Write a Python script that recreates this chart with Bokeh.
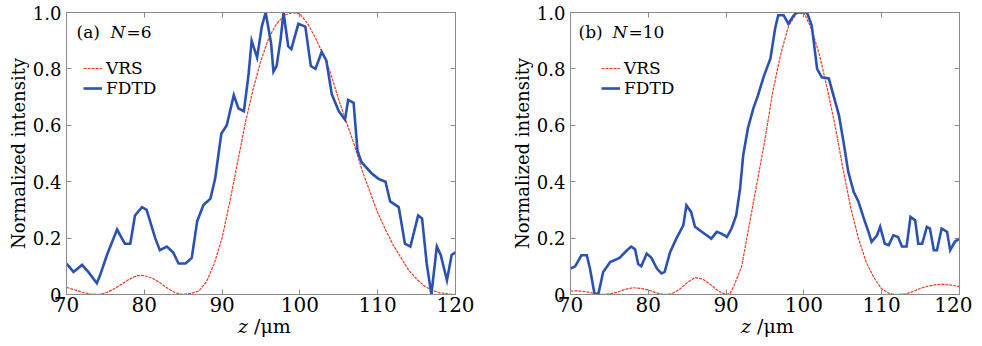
from bokeh.plotting import figure
from bokeh.layouts import row, column
from bokeh.models import (Range1d, LinearAxis, FixedTicker, Label, Legend, LegendItem, Div)
from bokeh.embed import file_html
from bokeh.resources import INLINE

# ---------------- data ----------------
x_ticks = [70, 80, 90, 100, 110, 120]
y_ticks = [0, 0.2, 0.4, 0.6, 0.8, 1.0]
y_tick_labels = {0: "0", 0.2: "0.2", 0.4: "0.4", 0.6: "0.6", 0.8: "0.8", 1: "1.0"}

# panel (a) N=6
a_fdtd_z = [70.0, 70.9, 72.0, 72.8, 73.9, 74.3, 75.2, 76.5, 77.5, 78.2, 78.8, 79.7, 80.3,
            81.4, 82.0, 82.9, 83.7, 84.4, 85.3, 86.1, 86.8, 87.6, 88.5, 89.1, 89.9, 90.6,
            91.5, 92.1, 92.8, 93.4, 93.8, 94.5, 95.1, 95.6, 96.3, 96.6, 97.0, 97.5, 97.9,
            98.5, 98.9, 99.8, 100.7, 101.4, 102.0, 102.8, 103.4, 104.1, 105.0, 105.8,
            106.2, 106.9, 107.4, 107.9, 109.2, 110.1, 111.0, 111.6, 112.7, 113.5, 114.2,
            115.2, 115.7, 116.3, 116.9, 117.6, 118.1, 118.9, 119.5, 120.0]
a_fdtd_i = [0.11, 0.08, 0.105, 0.08, 0.04, 0.067, 0.14, 0.23, 0.18, 0.18, 0.28, 0.31, 0.30,
            0.20, 0.157, 0.17, 0.15, 0.11, 0.11, 0.13, 0.26, 0.317, 0.34, 0.41, 0.57, 0.60,
            0.707, 0.66, 0.65, 0.78, 0.90, 0.84, 0.95, 1.0, 0.89, 0.79, 0.81, 0.90, 1.0,
            0.88, 0.87, 0.96, 0.95, 0.81, 0.80, 0.86, 0.83, 0.71, 0.65, 0.62,
            0.69, 0.68, 0.51, 0.47, 0.43, 0.41, 0.40, 0.33, 0.31, 0.18, 0.17,
            0.28, 0.27, 0.11, 0.0, 0.17, 0.14, 0.05, 0.14, 0.15]
a_vrs_z = [70, 71, 72, 73, 74, 75, 76, 77, 78, 79, 79.5, 80, 81, 82, 83, 84, 85, 86, 87, 88,
           89, 90, 91, 92, 93, 94, 95, 96, 97, 98, 99, 100, 101, 102, 103, 104, 105, 106,
           107, 108, 109, 110, 111, 112, 113, 114, 115, 116, 117, 118, 119, 120]
a_vrs_i = [0.025, 0.017, 0.008, 0.002, 0.0, 0.005, 0.018, 0.035, 0.053, 0.066, 0.068, 0.067,
           0.058, 0.042, 0.022, 0.006, 0.0, 0.004, 0.012, 0.045, 0.11, 0.2, 0.33, 0.47, 0.61,
           0.73, 0.83, 0.91, 0.96, 0.99, 1.0, 0.995, 0.96, 0.91, 0.85, 0.78, 0.69, 0.61,
           0.53, 0.44, 0.365, 0.29, 0.23, 0.175, 0.13, 0.085, 0.055, 0.03, 0.015, 0.006,
           0.002, 0.0]

# panel (b) N=10
b_fdtd_z = [70.0, 70.6, 71.4, 72.1, 72.5, 73.1, 73.6, 74.2, 75.1, 76.3, 77.2, 77.8, 78.3,
            78.7, 79.1, 79.8, 80.4, 81.1, 81.7, 82.1, 82.8, 83.6, 84.5, 84.9, 85.5, 86.0,
            86.6, 87.5, 88.1, 88.8, 89.4, 90.1, 90.7, 91.3, 91.8, 92.2, 92.8, 93.5, 94.1,
            94.8, 95.7, 96.3, 96.7, 97.4, 98.0, 98.7, 99.1, 100.4, 101.0, 101.7, 102.3,
            103.2, 103.8, 104.5, 105.1, 105.7, 106.4, 107.0, 107.7, 108.3, 108.7, 109.4,
            109.8, 110.4, 110.9, 111.5, 112.1, 112.6, 113.2, 113.7, 114.3, 114.7, 115.2,
            115.8, 116.2, 116.7, 117.1, 117.7, 118.4, 118.8, 119.4, 120.0]
b_fdtd_i = [0.092, 0.10, 0.139, 0.139, 0.092, 0.0, 0.004, 0.08, 0.115, 0.13, 0.155, 0.17, 0.16,
            0.108, 0.10, 0.145, 0.13, 0.092, 0.075, 0.08, 0.15, 0.198, 0.245, 0.316, 0.293, 0.24,
            0.228, 0.21, 0.198, 0.222, 0.216, 0.204, 0.234, 0.28, 0.376, 0.494, 0.589, 0.66, 0.706,
            0.77, 0.837, 0.943, 0.99, 0.99, 0.96, 0.99, 1.0, 1.0, 0.955, 0.80, 0.77,
            0.766, 0.706, 0.636, 0.54, 0.435, 0.364, 0.33, 0.27, 0.222, 0.187, 0.21,
            0.24, 0.18, 0.175, 0.21, 0.204, 0.17, 0.17, 0.275, 0.263, 0.18, 0.18,
            0.24, 0.234, 0.157, 0.157, 0.234, 0.222, 0.157, 0.187, 0.198]
b_vrs_z = [70, 71, 72, 73, 74, 75, 76, 77, 78, 79, 80, 81, 82, 83, 84, 85, 86, 87, 88, 89, 90,
           90.5, 91, 92, 93, 94, 95, 96, 97, 98, 99, 100, 101, 102, 103, 104, 105, 106, 107,
           108, 109, 110, 111, 112, 113, 114, 115, 116, 117, 118, 119, 120]
b_vrs_i = [0.012, 0.013, 0.01, 0.004, 0.0, 0.002, 0.008, 0.018, 0.024, 0.022, 0.016, 0.006,
           0.0, 0.002, 0.018, 0.042, 0.06, 0.055, 0.035, 0.012, 0.0, 0.004, 0.03, 0.1, 0.25,
           0.4, 0.55, 0.72, 0.85, 0.95, 0.995, 1.0, 0.94, 0.85, 0.73, 0.6, 0.45, 0.31, 0.2,
           0.115, 0.06, 0.02, 0.003, 0.0, 0.002, 0.01, 0.022, 0.03, 0.035, 0.036, 0.033, 0.028]

FONT = "DejaVu Serif"
BLUE = "#2b52b0"
RED = "#ee3b23"
GRAY = "#8a8a8a"


def make_panel(tag, nval, fz, fi, vz, vi, left, right, label_dx, legend_dx):
    p = figure(frame_width=389, frame_height=282, output_backend="svg", toolbar_location=None,
               x_range=Range1d(70, 120), y_range=Range1d(0, 1.0),
               min_border_left=left, min_border_right=right,
               min_border_top=12, min_border_bottom=26)
    p.background_fill_color = "white"
    p.border_fill_color = "white"
    p.outline_line_color = GRAY
    p.grid.visible = False

    r_v = p.line(vz, vi, line_color=RED, line_width=1.2, line_dash="3 1")
    r_f = p.line(fz, fi, line_color=BLUE, line_width=2.6, line_join="miter")

    xa = p.xaxis[0]
    xa.ticker = FixedTicker(ticks=x_ticks)
    xa.major_label_text_font = FONT
    xa.major_label_text_font_size = "20px"
    xa.major_label_text_color = "black"
    xa.major_label_standoff = 2

    ya = p.yaxis[0]
    ya.ticker = FixedTicker(ticks=y_ticks)
    ya.major_label_overrides = y_tick_labels
    ya.major_label_text_font = FONT
    ya.major_label_text_font_size = "18px"
    ya.major_label_text_color = "black"
    ya.major_label_standoff = 5
    ya.axis_label = "Normalized intensity"
    ya.axis_label_text_font = FONT
    ya.axis_label_text_font_size = "18px"
    ya.axis_label_text_font_style = "normal"
    ya.axis_label_text_color = "black"
    ya.axis_label_standoff = 1

    for ax in (xa, ya):
        ax.axis_line_color = GRAY
        ax.major_tick_line_color = GRAY
        ax.major_tick_in = 5
        ax.major_tick_out = 0
        ax.minor_tick_line_color = None

    # mirrored tick marks on top and right (no labels)
    for place, ticks in (("above", x_ticks), ("right", y_ticks)):
        ax = LinearAxis(ticker=FixedTicker(ticks=ticks), major_label_text_font_size="0px",
                        major_label_text_color=None,
                        axis_line_color=GRAY, major_tick_line_color=GRAY, major_tick_in=5,
                        major_tick_out=0, minor_tick_line_color=None, major_label_standoff=0)
        p.add_layout(ax, place)

    # panel tag: "(a) N=6"
    common = dict(x_units="screen", y_units="screen", text_font=FONT,
                  text_font_size="17px", text_color="black", text_baseline="middle")
    p.add_layout(Label(x=label_dx, y=263, text=tag, **common))
    p.add_layout(Label(x=label_dx + 34, y=263, text="N", text_font_style="italic", **common))
    p.add_layout(Label(x=label_dx + 50, y=263, text="=" + nval, **common))

    leg = Legend(items=[LegendItem(label="VRS", renderers=[r_v]),
                        LegendItem(label="FDTD", renderers=[r_f])],
                 location=(legend_dx, 196), padding=0, margin=0, spacing=-2,
                 glyph_width=19, glyph_height=18, label_height=18, label_standoff=4,
                 label_text_font=FONT, label_text_font_size="17px",
                 label_text_color="black", border_line_color=None,
                 background_fill_alpha=0)
    p.add_layout(leg)
    return p


def xtitle(width, pad):
    html = ('<div style="padding-left:%dpx;font-family:\'DejaVu Serif\';font-size:19px;'
            'line-height:20px;color:black;white-space:nowrap"><i>z</i> /μm</div>' % pad)
    return Div(text=html, width=width, height=20, margin=(-4, 0, 0, 0))


pa = make_panel("(a)", "6", a_fdtd_z, a_fdtd_i, a_vrs_z, a_vrs_i,
                left=66, right=33, label_dx=10, legend_dx=17)
pb = make_panel("(b)", "10", b_fdtd_z, b_fdtd_i, b_vrs_z, b_vrs_i,
                left=82, right=13, label_dx=8, legend_dx=31)

layout = row(column(pa, xtitle(488, 238), spacing=0),
             column(pb, xtitle(484, 253), spacing=0), spacing=0)
open("out.html", "w").write(file_html(layout, INLINE))
